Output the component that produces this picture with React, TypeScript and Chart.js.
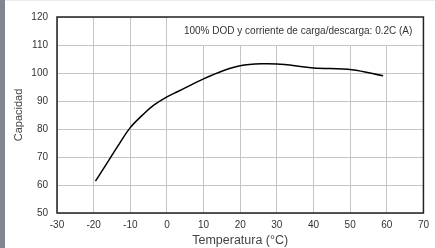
import React, { useEffect, useRef } from "react";
import { Chart, registerables } from "chart.js";

Chart.register(...registerables);

const temperatures = [-19.5, -16, -13.5, -10, -6, -3.5, 0, 3, 10, 15.5, 20, 26.5, 30, 35, 40, 50.5, 59];
const capacity = [61.4, 68.5, 73.7, 80.5, 85.8, 88.6, 91.5, 93.4, 97.9, 100.9, 102.6, 103.3, 103.2, 102.6, 101.8, 101.2, 99.0];
const xTicks = [-30, -20, -10, 0, 10, 20, 30, 40, 50, 60, 70];
const yTicks = [50, 60, 70, 80, 90, 100, 110, 120];
const noteText = "100% DOD y corriente de carga/descarga: 0.2C (A)";
const xTitle = "Temperatura (°C)";
const yTitle = "Capacidad";

const FONT = "'Liberation Sans', Arial, sans-serif";

const notePlugin = {
  id: "noteBox",
  beforeDatasetsDraw(chart: any) {
    const { ctx, chartArea, scales } = chart;
    const x0 = scales.x.getPixelForValue(0);
    const y110 = scales.y.getPixelForValue(110);
    ctx.save();
    ctx.fillStyle = "#ffffff";
    ctx.fillRect(Math.round(x0) + 1, chartArea.top, chartArea.right - Math.round(x0) - 1, Math.round(y110) - chartArea.top);
    ctx.fillStyle = "#333333";
    ctx.font = "10px " + FONT;
    ctx.textBaseline = "middle";
    ctx.textAlign = "left";
    ctx.fillText(noteText, x0 + 17, (chartArea.top + y110) / 2 + 0.5);
    ctx.restore();
  },
  afterDatasetsDraw(chart: any) {
    const { ctx, chartArea } = chart;
    ctx.save();
    ctx.strokeStyle = "#222222";
    ctx.lineWidth = 1.5;
    ctx.strokeRect(chartArea.left, chartArea.top, chartArea.right - chartArea.left, chartArea.bottom - chartArea.top);
    ctx.restore();
  },
};

export default function App() {
  const ref = useRef<HTMLCanvasElement>(null);
  useEffect(() => {
    if (!ref.current) return;
    const chart = new Chart(ref.current, {
      type: "line",
      data: {
        datasets: [
          {
            data: temperatures.map((t, i) => ({ x: t, y: capacity[i] })),
            borderColor: "#000000",
            borderWidth: 1.5,
            pointRadius: 0,
            tension: 0.35,
            fill: false,
          },
        ],
      },
      options: {
        responsive: false,
        animation: false,
        layout: { padding: { left: 0, right: 7, top: 17, bottom: 0 } },
        plugins: { legend: { display: false }, tooltip: { enabled: false } },
        scales: {
          x: {
            type: "linear",
            min: xTicks[0],
            max: xTicks[xTicks.length - 1],
            afterBuildTicks: (scale: any) => {
              scale.ticks = xTicks.map((v) => ({ value: v }));
            },
            afterFit: (scale: any) => {
              scale.height = 35;
            },
            ticks: { color: "#333333", font: { family: FONT, size: 10 }, padding: 6, maxRotation: 0, autoSkip: false },
            grid: { color: "#c4c4c4", lineWidth: 1, drawTicks: false },
            border: { display: false },
            title: { display: true, text: xTitle, color: "#444444", font: { family: FONT, size: 12.5 }, padding: { top: 0, bottom: 0 } },
          },
          y: {
            type: "linear",
            min: yTicks[0],
            max: yTicks[yTicks.length - 1],
            afterBuildTicks: (scale: any) => {
              scale.ticks = yTicks.map((v) => ({ value: v }));
            },
            afterFit: (scale: any) => {
              scale.width = 57;
            },
            ticks: { color: "#333333", font: { family: FONT, size: 10 }, padding: 9, autoSkip: false },
            grid: { color: "#c4c4c4", lineWidth: 1, drawTicks: false },
            border: { display: false },
            title: { display: true, text: yTitle, color: "#444444", font: { family: FONT, size: 11 }, padding: { top: 12.5, bottom: 0 } },
          },
        },
      },
      plugins: [notePlugin],
    });
    return () => chart.destroy();
  }, []);

  return (
    <div style={{ position: "fixed", left: 0, top: 0, width: 435, height: 248, background: "#ffffff", overflow: "hidden" }}>
      <div style={{ position: "absolute", left: 0, top: 0, width: 435, height: 1, background: "#ececec" }} />
      <canvas ref={ref} width={435} height={248} style={{ position: "absolute", left: 0, top: 0 }} />
      <div style={{ position: "absolute", left: 0, top: 0, width: 5, height: 248, background: "#80858e" }} />
    </div>
  );
}
